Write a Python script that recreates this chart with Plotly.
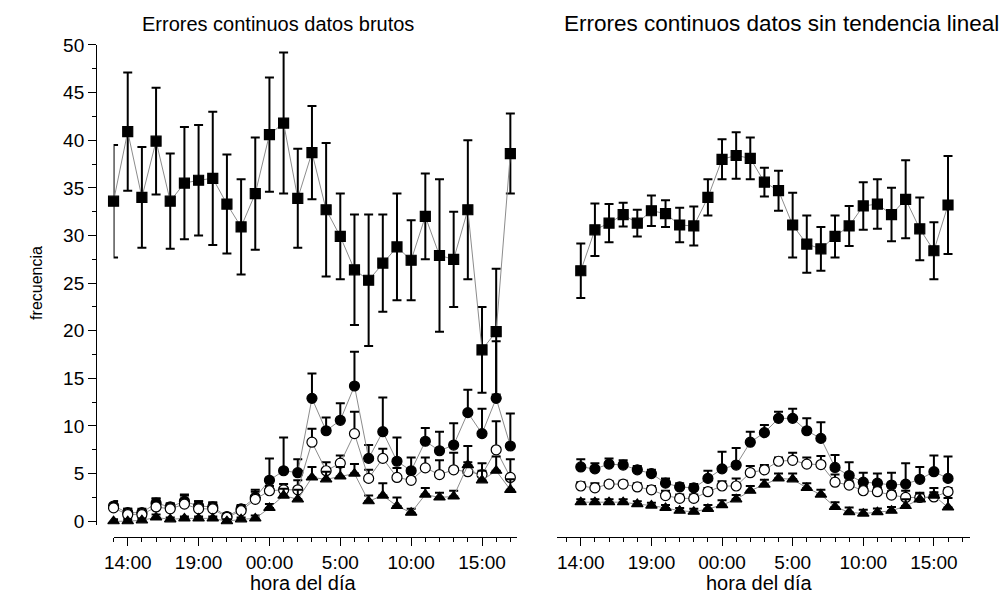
import plotly.graph_objects as go

# ---------------- data ----------------
horas_izq = ["13:00", "14:00", "15:00", "16:00", "17:00", "18:00", "19:00", "20:00", "21:00",
             "22:00", "23:00", "00:00", "01:00", "02:00", "03:00", "04:00", "05:00", "06:00",
             "07:00", "08:00", "09:00", "10:00", "11:00", "12:00", "13:00", "14:00", "15:00",
             "16:00", "17:00"]
horas_der = horas_izq[1:28]   # 14:00 .. 16:00

tick_pos = [1, 6, 11, 16, 21, 26]
tick_txt = ["14:00", "19:00", "00:00", "5:00", "10:00", "15:00"]

# left panel (datos brutos)
izq_cuad = [33.6, 40.9, 34.0, 39.9, 33.6, 35.5, 35.8, 36.0, 33.3, 30.9, 34.4, 40.6, 41.8, 33.9,
            38.7, 32.7, 29.9, 26.4, 25.3, 27.1, 28.8, 27.4, 32.0, 27.9, 27.5, 32.7, 18.0, 19.9, 38.6]
izq_cuad_err = [5.9, 6.2, 5.3, 5.6, 5.0, 5.9, 5.8, 7.0, 5.2, 5.0, 5.9, 6.0, 7.4, 5.2, 4.9, 7.0,
                4.5, 5.8, 6.9, 5.1, 5.6, 4.2, 4.5, 8.0, 5.0, 7.3, 4.5, 6.6, 4.2]
izq_circ = [1.6, 0.9, 0.9, 1.9, 1.5, 2.1, 1.6, 1.5, 0.5, 1.3, 2.5, 4.3, 5.3, 5.1, 12.9, 9.5, 10.6,
            14.2, 6.6, 9.4, 6.3, 5.3, 8.4, 7.4, 8.0, 11.4, 9.2, 12.9, 7.9]
izq_circ_err = [0.5, 0.4, 0.4, 0.5, 0.4, 0.6, 0.5, 0.5, 0.3, 0.4, 0.6, 2.3, 3.5, 1.4, 2.6, 1.4,
                1.8, 3.6, 1.4, 3.6, 2.5, 1.4, 1.4, 2.0, 2.3, 2.4, 2.6, 6.0, 3.4]
izq_abierto = [1.4, 0.7, 0.7, 1.5, 1.3, 1.8, 1.3, 1.3, 0.4, 1.1, 2.3, 3.2, 3.3, 3.3, 8.3, 5.3, 6.1,
               9.2, 4.5, 6.6, 4.6, 4.3, 5.6, 4.9, 5.4, 5.2, 4.9, 7.5, 4.6]
izq_abierto_err = [0.7, 0.6, 0.4, 0.9, 0.5, 1.0, 0.8, 0.6, 0.2, 0.5, 1.0, 0.5, 0.6, 1.0, 1.4, 0.9,
                   0.8, 2.3, 0.9, 1.0, 1.0, 0.8, 1.1, 1.5, 1.8, 1.0, 1.2, 3.0, 1.9]
izq_tri = [0.0, 0.0, 0.1, 0.4, 0.2, 0.3, 0.3, 0.3, 0.0, 0.2, 0.3, 1.4, 2.7, 2.3, 4.6, 4.4, 4.7,
           5.0, 2.1, 2.7, 1.6, 0.9, 2.8, 2.5, 2.6, 5.9, 4.3, 5.3, 3.3]
izq_tri_err = [0.2, 0.2, 0.2, 0.3, 0.2, 0.2, 0.2, 0.2, 0.2, 0.2, 0.3, 0.4, 0.7, 1.0, 1.1, 0.8,
               1.0, 1.0, 0.6, 1.3, 0.9, 0.4, 0.7, 0.5, 0.6, 2.0, 1.0, 1.5, 1.1]

# right panel (sin tendencia lineal)
der_cuad = [26.3, 30.6, 31.3, 32.2, 31.3, 32.6, 32.3, 31.1, 31.0, 34.0, 38.0, 38.4, 38.1, 35.6,
            34.7, 31.1, 29.1, 28.6, 29.9, 31.0, 33.1, 33.3, 32.2, 33.8, 30.7, 28.4, 33.2]
der_cuad_err = [2.85, 2.75, 2.0, 1.25, 1.4, 1.6, 1.4, 1.8, 2.05, 1.9, 2.1, 2.45, 2.2, 1.5, 2.1,
                3.4, 3.0, 2.3, 2.2, 2.1, 2.5, 2.6, 2.8, 4.1, 3.3, 3.0, 5.15]
der_circ = [5.7, 5.5, 6.0, 5.9, 5.4, 5.0, 4.0, 3.6, 3.5, 4.5, 5.5, 5.9, 8.3, 9.3, 10.8, 10.8, 9.5,
            8.7, 5.65, 4.8, 4.1, 4.0, 3.8, 3.9, 4.4, 5.2, 4.5]
der_circ_err = [0.8, 0.6, 0.6, 0.5, 0.4, 0.4, 0.5, 0.4, 0.4, 0.8, 1.8, 1.8, 1.1, 0.8, 0.7, 1.0,
                1.3, 1.7, 1.3, 1.4, 1.0, 1.0, 1.3, 2.2, 1.3, 1.7, 2.3]
der_abierto = [3.7, 3.5, 3.9, 3.9, 3.6, 3.3, 2.7, 2.4, 2.4, 3.1, 3.7, 3.7, 5.1, 5.4, 6.3, 6.4, 6.0,
               5.95, 4.1, 3.8, 3.2, 3.1, 2.75, 2.5, 2.5, 2.55, 3.1]
der_abierto_err = [0.4, 0.5, 0.3, 0.35, 0.4, 0.4, 0.5, 0.4, 0.4, 0.4, 0.5, 0.8, 0.7, 0.5, 0.4,
                   0.8, 0.7, 0.9, 0.8, 0.4, 0.4, 0.4, 0.4, 0.7, 0.5, 0.5, 0.4]
der_tri = [2.0, 2.0, 2.0, 2.0, 1.8, 1.65, 1.4, 1.1, 1.0, 1.3, 1.7, 2.3, 3.2, 3.85, 4.5, 4.4, 3.5,
           2.8, 1.5, 0.95, 0.8, 0.95, 1.1, 1.6, 2.3, 2.7, 1.45]
der_tri_err = [0.3, 0.3, 0.3, 0.3, 0.3, 0.3, 0.3, 0.3, 0.3, 0.4, 0.5, 0.45, 0.5, 0.5, 0.5, 0.6,
               0.5, 0.5, 0.5, 0.5, 0.4, 0.4, 0.4, 0.7, 0.6, 0.8, 1.0]

# ---------------- figure ----------------
W, H = 1008, 606
FONT = "Liberation Sans, Arial, sans-serif"
LINE = "#8c8c8c"

x_izq = list(range(len(horas_izq)))
x_der = list(range(1, 1 + len(horas_der)))

fig = go.Figure()


def add(xs, ys, errs, xa, ya, symbol, fill, both):
    err = dict(type="data", array=errs, visible=True, color="black", thickness=2, width=4.5)
    if both:
        err["symmetric"] = True
    else:
        err["symmetric"] = False
        err["arrayminus"] = [0] * len(errs)
    fig.add_trace(go.Scatter(
        x=xs, y=ys, xaxis=xa, yaxis=ya, mode="lines+markers",
        line=dict(color=LINE, width=1),
        marker=dict(symbol=symbol, size=10, color=fill,
                    line=dict(color="black", width=1.2)),
        error_y=err, cliponaxis=False, showlegend=False, hoverinfo="x+y",
    ))


for xa, ya, xs, c, ce, f, fe, o, oe, t, te in [
    ("x", "y", x_izq, izq_cuad, izq_cuad_err, izq_circ, izq_circ_err, izq_abierto,
     izq_abierto_err, izq_tri, izq_tri_err),
    ("x2", "y2", x_der, der_cuad, der_cuad_err, der_circ, der_circ_err, der_abierto,
     der_abierto_err, der_tri, der_tri_err),
]:
    add(xs, c, ce, xa, ya, "square", "black", True)
    add(xs, f, fe, xa, ya, "circle", "black", False)
    add(xs, o, oe, xa, ya, "circle", "white", False)
    add(xs, t, te, xa, ya, "triangle-up", "black", False)

px = lambda p: p / W
py = lambda p: (H - p) / H

y_top, y0_px, y_bot = 36, 526, 530
unit = (y0_px - y_top) / 50.0
y_min = -(y_bot - y0_px) / unit

xcommon = dict(
    showline=True, linecolor="black", linewidth=1.3, mirror=False,
    ticks="outside", ticklen=8, tickwidth=1.3, tickcolor="black",
    tickmode="array", tickvals=tick_pos, ticktext=tick_txt,
    minor=dict(tickvals=list(range(0, 29)), ticks="outside", ticklen=4, tickwidth=1.3,
               tickcolor="black", showgrid=False),
    showgrid=False, zeroline=False,
    tickfont=dict(family=FONT, size=19, color="black"),
    anchor="free", position=py(542),
)

fig.update_layout(
    width=W, height=H, margin=dict(l=0, r=0, t=0, b=0),
    paper_bgcolor="white", plot_bgcolor="white",
    font=dict(family=FONT, color="black"),
    xaxis=dict(domain=[px(105.5), px(512.3)], range=[0, 28.45], **xcommon),
    xaxis2=dict(domain=[px(553), px(970)], range=[-0.68, 28.58], **xcommon),
    yaxis=dict(domain=[py(y_bot), py(y_top)], range=[y_min, 50], anchor="free", position=px(88),
               showline=True, linecolor="black", linewidth=1.3,
               ticks="outside", ticklen=8, tickwidth=1.3, tickcolor="black",
               tickmode="linear", tick0=0, dtick=5,
               minor=dict(tick0=0, dtick=2.5, ticks="outside", ticklen=4, tickwidth=1.3,
                          tickcolor="black", showgrid=False),
               showgrid=False, zeroline=False,
               tickfont=dict(family=FONT, size=19, color="black")),
    yaxis2=dict(domain=[py(y_bot), py(y_top)], range=[y_min, 50], anchor="x2", visible=False),
    annotations=[
        dict(text="Errores continuos datos brutos", x=px(271), y=py(14), xref="paper",
             yref="paper", showarrow=False, font=dict(size=20, family=FONT), xanchor="center",
             yanchor="middle"),
        dict(text="Errores continuos datos sin tendencia lineal", x=px(779), y=py(14),
             xref="paper", yref="paper", showarrow=False, font=dict(size=22.5, family=FONT),
             xanchor="center", yanchor="middle"),
        dict(text="hora del día", x=px(297), y=py(590), xref="paper", yref="paper",
             showarrow=False, font=dict(size=20, family=FONT), xanchor="center",
             yanchor="middle"),
        dict(text="hora del día", x=px(757), y=py(590), xref="paper", yref="paper",
             showarrow=False, font=dict(size=20, family=FONT), xanchor="center",
             yanchor="middle"),
        dict(text="frecuencia", x=px(27), y=py(281), xref="paper", yref="paper",
             showarrow=False, font=dict(size=16, family=FONT), textangle=-90,
             xanchor="center", yanchor="middle"),
    ],
)

fig.write_html("out.html", config={"displayModeBar": False},
               post_script="document.body.style.margin='0px';")
